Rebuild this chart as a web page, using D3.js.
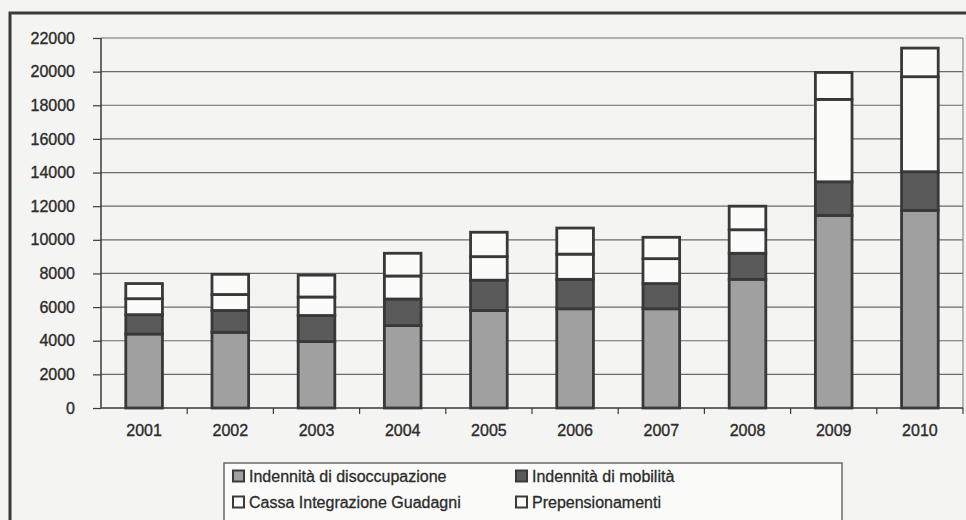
<!DOCTYPE html>
<html>
<head>
<meta charset="utf-8">
<script src="https://cdn.jsdelivr.net/npm/d3@7"></script>
<style>
    html, body { margin: 0; padding: 0; background: #f4f4f2; }
    svg { display: block; font-family: "Liberation Sans", Arial, sans-serif; }
</style>
</head>
<body>
<svg id="drawing_region"></svg>
<script>
// data
const years = ["2001", "2002", "2003", "2004", "2005", "2006", "2007", "2008", "2009", "2010"];
const disoccupazione = [4400, 4500, 3950, 4900, 5800, 5900, 5900, 7650, 11450, 11750];
const mobilita = [1150, 1300, 1550, 1580, 1800, 1750, 1500, 1550, 2000, 2300];
const cassaIntegrazione = [950, 950, 1100, 1370, 1400, 1500, 1480, 1400, 4900, 5650];
const prepensionamenti = [900, 1200, 1300, 1350, 1450, 1550, 1270, 1400, 1600, 1700];
const yTicks = [0, 2000, 4000, 6000, 8000, 10000, 12000, 14000, 16000, 18000, 20000, 22000];
const seriesNames = ["Indennità di disoccupazione", "Indennità di mobilità",
    "Cassa Integrazione Guadagni", "Prepensionamenti"];
const seriesColors = ["#a0a0a0", "#5a5a5a", "#fbfbfa", "#fbfbfa"];

class StackedBarChart {

    constructor(config) {
        this.config = config;
        this.init();
    }

    init() {
        let self = this;

        self.svg = d3.select(self.config.parent)
            .attr('width', self.config.width)
            .attr('height', self.config.height);

        // paper background + outer frame
        self.svg.append("rect")
            .attr("width", self.config.width)
            .attr("height", self.config.height)
            .attr("fill", "#f4f4f2");
        self.svg.append("rect")
            .attr("x", 10)
            .attr("y", 13)
            .attr("width", self.config.width + 20)
            .attr("height", self.config.height + 20)
            .attr("fill", "none")
            .attr("stroke", "#3a3a3a")
            .attr("stroke-width", 3);
    }

    update() {
        let self = this;
        let m = self.config.margin;

        // rows for d3.stack
        self.table = years.map((y, i) => ({
            year: y,
            s0: disoccupazione[i],
            s1: mobilita[i],
            s2: cassaIntegrazione[i],
            s3: prepensionamenti[i]
        }));
        self.stacked = d3.stack().keys(["s0", "s1", "s2", "s3"])(self.table);

        self.xScale = d3.scaleBand()
            .domain(years)
            .range([m.left, self.config.width - m.right])
            .paddingInner(0.575)
            .paddingOuter(0.2875);

        self.yScale = d3.scaleLinear()
            .domain([0, 22000])
            .range([self.config.height - m.bottom, m.top]);

        self.render();
    }

    render() {
        let self = this;
        let m = self.config.margin;
        let x = self.xScale, y = self.yScale;
        let x0 = m.left, x1 = self.config.width - m.right;

        // grid lines
        self.svg.append("g")
            .selectAll("line")
            .data(yTicks.slice(1))
            .join("line")
            .attr("x1", x0).attr("x2", x1)
            .attr("y1", d => y(d)).attr("y2", d => y(d))
            .attr("stroke", "#6a6a6a")
            .attr("stroke-width", 1.2);

        // right border of plot area
        self.svg.append("line")
            .attr("x1", x1).attr("x2", x1)
            .attr("y1", y(22000)).attr("y2", y(0))
            .attr("stroke", "#8a8a8a")
            .attr("stroke-width", 1.2);

        // bars
        self.svg.append("g")
            .selectAll("g")
            .data(self.stacked)
            .join("g")
            .attr("fill", (d, i) => seriesColors[i])
            .selectAll("rect")
            .data(d => d)
            .join("rect")
            .attr("x", d => x(d.data.year))
            .attr("y", d => y(d[1]))
            .attr("width", x.bandwidth())
            .attr("height", d => y(d[0]) - y(d[1]))
            .attr("stroke", "#383838")
            .attr("stroke-width", 2.8);

        // y axis
        let axisY = d3.axisLeft(y).tickValues(yTicks).tickSize(8).tickPadding(18).tickFormat(d3.format("d"));
        let gy = self.svg.append("g")
            .attr("transform", `translate(${x0},0)`)
            .call(axisY);
        gy.select(".domain").attr("stroke", "#3a3a3a").attr("stroke-width", 1.5)
            .attr("d", `M0,${y(0)}V${y(22000)}`);
        gy.selectAll(".tick line").attr("stroke", "#3a3a3a").attr("stroke-width", 1.2);

        // x axis, ticks between categories
        let gx = self.svg.append("g")
            .attr("transform", `translate(0,${y(0)})`)
            .call(d3.axisBottom(x).tickSize(0).tickPadding(17));
        gx.select(".domain").attr("stroke", "#3a3a3a").attr("stroke-width", 1.5)
            .attr("d", `M${x0},0H${x1}`);
        gx.append("g")
            .selectAll("line")
            .data(years)
            .join("line")
            .attr("x1", d => x(d) + x.bandwidth() / 2 + x.step() / 2)
            .attr("x2", d => x(d) + x.bandwidth() / 2 + x.step() / 2)
            .attr("y1", 0).attr("y2", 6)
            .attr("stroke", "#3a3a3a")
            .attr("stroke-width", 1.2);

        self.svg.selectAll(".tick text")
            .attr("fill", "#2b2b2b")
            .attr("stroke", "#2b2b2b")
            .attr("stroke-width", 0.35)
            .attr("font-size", "16px")
            .attr("font-family", "Liberation Sans, Arial, sans-serif");

        // legend
        let lg = self.svg.append("g");
        lg.append("rect")
            .attr("x", 224).attr("y", 463)
            .attr("width", 618).attr("height", 80)
            .attr("fill", "#fafaf9")
            .attr("stroke", "#6a6a6a")
            .attr("stroke-width", 1.5);
        let items = lg.selectAll("g.item")
            .data(seriesNames)
            .join("g")
            .attr("class", "item")
            .attr("transform", (d, i) => `translate(${i % 2 ? 516 : 233},${i < 2 ? 476 : 502})`);
        items.append("rect")
            .attr("x", 0).attr("y", -5.5)
            .attr("width", 11).attr("height", 11)
            .attr("fill", (d, i) => seriesColors[i])
            .attr("stroke", "#3a3a3a")
            .attr("stroke-width", 2);
        items.append("text")
            .attr("x", 16).attr("y", 0)
            .attr("dy", "0.35em")
            .attr("fill", "#2b2b2b")
            .attr("stroke", "#2b2b2b")
            .attr("stroke-width", 0.3)
            .attr("font-size", "16px")
            .text(d => d);
    }
}

const chart = new StackedBarChart({
    parent: '#drawing_region',
    width: 966,
    height: 520,
    margin: {top: 38, right: 3, bottom: 112, left: 101}
});
chart.update();
</script>
</body>
</html>
